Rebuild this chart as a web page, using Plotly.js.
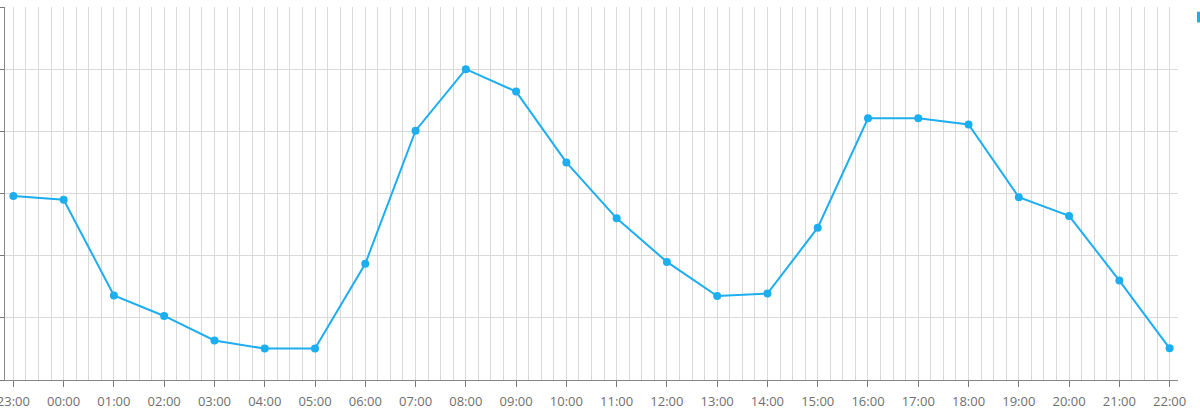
<!DOCTYPE html>
<html>
<head>
<meta charset="utf-8">
<script src="https://cdn.plot.ly/plotly-3.0.1.min.js"></script>
<style>
  html, body { margin: 0; padding: 0; background: #fff; }
  #chart { width: 1200px; height: 416px; }
</style>
</head>
<body>
<div id="chart"></div>
<script>
// hourly points, starting 23:00 the day before
var hours = ['23:00', '00:00', '01:00', '02:00', '03:00', '04:00', '05:00', '06:00',
    '07:00', '08:00', '09:00', '10:00', '11:00', '12:00', '13:00', '14:00',
    '15:00', '16:00', '17:00', '18:00', '19:00', '20:00', '21:00', '22:00'];
var values = [29.6, 29.0, 13.6, 10.3, 6.35, 5.05, 5.05, 18.7,
    40.1, 50.0, 46.4, 35.0, 26.0, 19.0, 13.5, 13.9,
    24.5, 42.1, 42.1, 41.1, 29.4, 26.4, 16.0, 5.1];

var x = [];
for (let i = 0; i < hours.length; i++) {
    var day = (i === 0) ? '2024-01-01' : '2024-01-02';
    x.push(day + ' ' + hours[i]);
}

var blue = '#1daef0';
var grid = '#d9d9d9';

var trace = {
    x: x,
    y: values,
    type: 'scatter',
    mode: 'lines+markers',
    line: { color: blue, width: 2 },
    marker: { color: blue, size: 8 },
    showlegend: false
};

var layout = {
    width: 1200,
    height: 416,
    margin: { l: 4.5, r: 22.3, t: 7, b: 35.5 },
    paper_bgcolor: '#fff',
    plot_bgcolor: '#fff',
    font: { family: 'Open Sans, sans-serif', size: 13, color: '#6f6f6f' },
    xaxis: {
        type: 'date',
        range: ['2024-01-01 22:50', '2024-01-02 22:10'],
        tick0: '2024-01-01 23:00',
        dtick: 3600000,
        tickformat: '%H:%M',
        ticks: 'outside',
        ticklen: 6,
        tickcolor: '#777',
        ticklabeloverflow: 'allow',
        ticklabelstandoff: 3,
        showline: true,
        linecolor: '#888',
        linewidth: 1,
        showgrid: true,
        gridcolor: grid,
        zeroline: false,
        minor: { dtick: 900000, showgrid: true, gridcolor: grid, ticks: '' },
        tickfont: { size: 13, color: '#6f6f6f' }
    },
    yaxis: {
        range: [0, 60],
        dtick: 10,
        showticklabels: false,
        ticks: 'outside',
        ticklen: 5,
        tickcolor: '#777',
        showline: true,
        linecolor: '#888',
        showgrid: true,
        gridcolor: grid,
        zeroline: false
    },
    shapes: [{
        // legend swatch, mostly outside the picture
        type: 'rect', xref: 'paper', yref: 'paper',
        x0: 1.0162, x1: 1.03, y0: 0.9585, y1: 0.9874,
        fillcolor: blue, line: { width: 0 }
    }]
};

Plotly.newPlot('chart', [trace], layout, { displayModeBar: false, staticPlot: true });
</script>
</body>
</html>
